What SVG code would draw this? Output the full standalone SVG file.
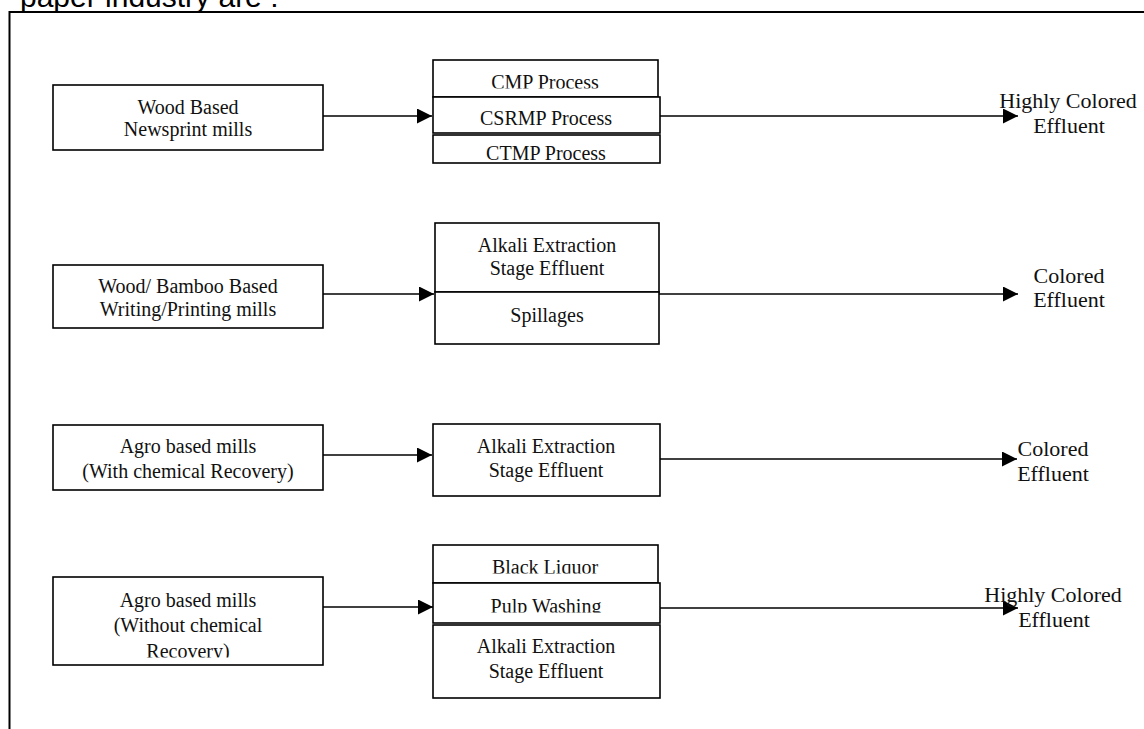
<svg xmlns="http://www.w3.org/2000/svg" width="1144" height="729" viewBox="0 0 1144 729">
<style>
.box{fill:#fff;stroke:#000;stroke-width:1.6}
.t{font-family:"Liberation Serif","Times New Roman",serif;font-size:20px;fill:#111;text-anchor:middle}
.r{font-family:"Liberation Serif","Times New Roman",serif;font-size:22px;fill:#111;text-anchor:middle}
.ln{stroke:#000;stroke-width:1.6;fill:none}
</style>
<defs>
<marker id="ah" markerUnits="userSpaceOnUse" markerWidth="16" markerHeight="16" refX="15" refY="7.5" orient="auto">
<path d="M0,0 L15,7.5 L0,15 Z" fill="#000"/>
</marker>
<clipPath id="c1"><rect x="433" y="60" width="225" height="28.5"/></clipPath>
<clipPath id="c2"><rect x="433" y="545" width="225" height="28.5"/></clipPath>
<clipPath id="c3"><rect x="433" y="583" width="227" height="29.5"/></clipPath>
<clipPath id="c4"><rect x="53" y="577" width="270" height="80.5"/></clipPath>
</defs>
<rect width="1144" height="729" fill="#fff"/>
<text x="20" y="7" font-family="'Liberation Sans',Arial,sans-serif" font-size="30" fill="#000">paper industry are :</text>
<path d="M9.5,729 V12 H1144" stroke="#000" stroke-width="2" fill="none"/>

<g id="connectors">
<line class="ln" x1="323" y1="116" x2="432" y2="116" marker-end="url(#ah)"/>
<line class="ln" x1="660" y1="116" x2="1018" y2="116" marker-end="url(#ah)"/>
<line class="ln" x1="323" y1="294" x2="434" y2="294" marker-end="url(#ah)"/>
<line class="ln" x1="659" y1="294" x2="1018" y2="294" marker-end="url(#ah)"/>
<line class="ln" x1="323" y1="455" x2="432" y2="455" marker-end="url(#ah)"/>
<line class="ln" x1="660" y1="459" x2="1017" y2="459" marker-end="url(#ah)"/>
<line class="ln" x1="323" y1="607" x2="433" y2="607" marker-end="url(#ah)"/>
<line class="ln" x1="660" y1="608" x2="1018" y2="608" marker-end="url(#ah)"/>
</g>

<g id="wood-newsprint">
<rect class="box" x="53" y="85" width="270" height="65"/>
<text class="t" x="188" y="114">Wood Based</text>
<text class="t" x="188" y="136">Newsprint mills</text>
</g>
<g id="cmp">
<rect class="box" x="433" y="60" width="225" height="37"/>
<text class="t" x="545" y="89" clip-path="url(#c1)">CMP Process</text>
</g>
<g id="csrmp">
<rect class="box" x="433" y="97" width="227" height="36"/>
<text class="t" x="546" y="125">CSRMP Process</text>
</g>
<g id="ctmp">
<rect class="box" x="433" y="135" width="227" height="28"/>
<text class="t" x="546" y="160">CTMP Process</text>
</g>
<g id="out1">
<text class="r" x="1068" y="108">Highly Colored</text>
<text class="r" x="1069" y="133">Effluent</text>
</g>

<g id="wood-bamboo">
<rect class="box" x="53" y="265" width="270" height="63"/>
<text class="t" x="188" y="293">Wood/ Bamboo Based</text>
<text class="t" x="188" y="316">Writing/Printing mills</text>
</g>
<g id="alkali2">
<rect class="box" x="435" y="223" width="224" height="69"/>
<text class="t" x="547" y="252">Alkali Extraction</text>
<text class="t" x="547" y="275">Stage Effluent</text>
</g>
<g id="spillages">
<rect class="box" x="435" y="292" width="224" height="52"/>
<text class="t" x="547" y="322">Spillages</text>
</g>
<g id="out2">
<text class="r" x="1069" y="283">Colored</text>
<text class="r" x="1069" y="307">Effluent</text>
</g>

<g id="agro-with">
<rect class="box" x="53" y="425" width="270" height="65"/>
<text class="t" x="188" y="453">Agro based mills</text>
<text class="t" x="188" y="478">(With chemical Recovery)</text>
</g>
<g id="alkali3">
<rect class="box" x="433" y="424" width="227" height="72"/>
<text class="t" x="546" y="453">Alkali Extraction</text>
<text class="t" x="546" y="477">Stage Effluent</text>
</g>
<g id="out3">
<text class="r" x="1053" y="456">Colored</text>
<text class="r" x="1053" y="481">Effluent</text>
</g>

<g id="agro-without">
<rect class="box" x="53" y="577" width="270" height="88"/>
<text class="t" x="188" y="607">Agro based mills</text>
<text class="t" x="188" y="632">(Without chemical</text>
<text class="t" x="188" y="657.5" clip-path="url(#c4)">Recovery)</text>
</g>
<g id="black-liquor">
<rect class="box" x="433" y="545" width="225" height="38"/>
<text class="t" x="545" y="574" clip-path="url(#c2)">Black Liquor</text>
</g>
<g id="pulp-washing">
<rect class="box" x="433" y="583" width="227" height="40"/>
<text class="t" x="546" y="613" clip-path="url(#c3)">Pulp Washing</text>
</g>
<g id="alkali4">
<rect class="box" x="433" y="625" width="227" height="73"/>
<text class="t" x="546" y="653">Alkali Extraction</text>
<text class="t" x="546" y="678">Stage Effluent</text>
</g>
<g id="out4">
<text class="r" x="1053" y="602">Highly Colored</text>
<text class="r" x="1054" y="627">Effluent</text>
</g>
</svg>
